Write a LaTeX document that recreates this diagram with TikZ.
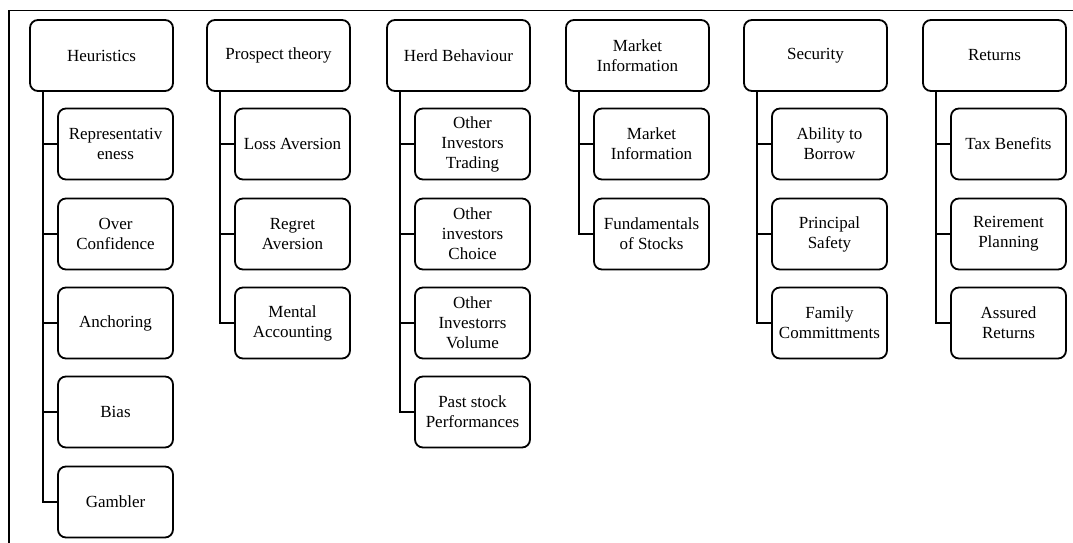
\documentclass[tikz,border=0pt]{standalone}
\usepackage{fontspec}
\setmainfont{Liberation Serif}
\begin{document}
\begin{tikzpicture}[x=1pt,y=-1pt,
  box/.style={draw, line width=1.8pt, rounded corners=8pt, align=center,
    inner sep=2pt, font=\fontsize{17}{20}\selectfont},
  head/.style={box, minimum width=143pt, minimum height=71pt},
  item/.style={box, minimum width=115pt, minimum height=71pt},
  link/.style={line width=2pt}]
\useasboundingbox (0,0) rectangle (1073,543);
% outer frame (top and left edges)
\draw[line width=1.6pt] (1073,10.5) -- (9,10.5) -- (9,543);

% column heads
\node[head] (h1) at (101.5,55.5) {Heuristics};
\node[head] (h2) at (278.5,55.5) {Prospect theory};
\node[head] (h3) at (458.5,55.5) {Herd Behaviour};
\node[head] (h4) at (637.5,55.5) {Market\\Information};
\node[head] (h5) at (815.5,55.5) {Security};
\node[head] (h6) at (994.5,55.5) {Returns};

% Heuristics
\node[item] (a1) at (115.5,144) {Representativ\\eness};
\node[item] (a2) at (115.5,234) {Over\\Confidence};
\node[item] (a3) at (115.5,323) {Anchoring};
\node[item] (a4) at (115.5,412) {Bias};
\node[item] (a5) at (115.5,502) {Gambler};

% Prospect theory
\node[item] (b1) at (292.5,144) {Loss Aversion};
\node[item] (b2) at (292.5,234) {Regret\\Aversion};
\node[item] (b3) at (292.5,323) {Mental\\Accounting};

% Herd Behaviour
\node[item] (c1) at (472.5,144) {Other\\Investors\\Trading};
\node[item] (c2) at (472.5,234) {Other\\investors\\Choice};
\node[item] (c3) at (472.5,323) {Other\\Investorrs\\Volume};
\node[item] (c4) at (472.5,412) {Past stock\\Performances};

% Market Information
\node[item] (d1) at (651.5,144) {Market\\Information};
\node[item] (d2) at (651.5,234) {Fundamentals\\of Stocks};

% Security
\node[item] (e1) at (829.5,144) {Ability to\\Borrow};
\node[item] (e2) at (829.5,234) {Principal\\Safety};
\node[item] (e3) at (829.5,323) {Family\\Committments};

% Returns
\node[item] (f1) at (1008.5,144) {Tax Benefits};
\node[item] (f2) at (1008.5,234) {Reirement\\Planning};
\node[item] (f3) at (1008.5,323) {Assured\\Returns};

% elbow connectors from each head to its items
\foreach \h/\list in {h1/{a1,a2,a3,a4,a5}, h2/{b1,b2,b3}, h3/{c1,c2,c3,c4},
                      h4/{d1,d2}, h5/{e1,e2,e3}, h6/{f1,f2,f3}}{
  \foreach \c in \list{
    \draw[link] ([xshift=14pt]\h.south west) |- (\c.west);
  }
}
\end{tikzpicture}
\end{document}
